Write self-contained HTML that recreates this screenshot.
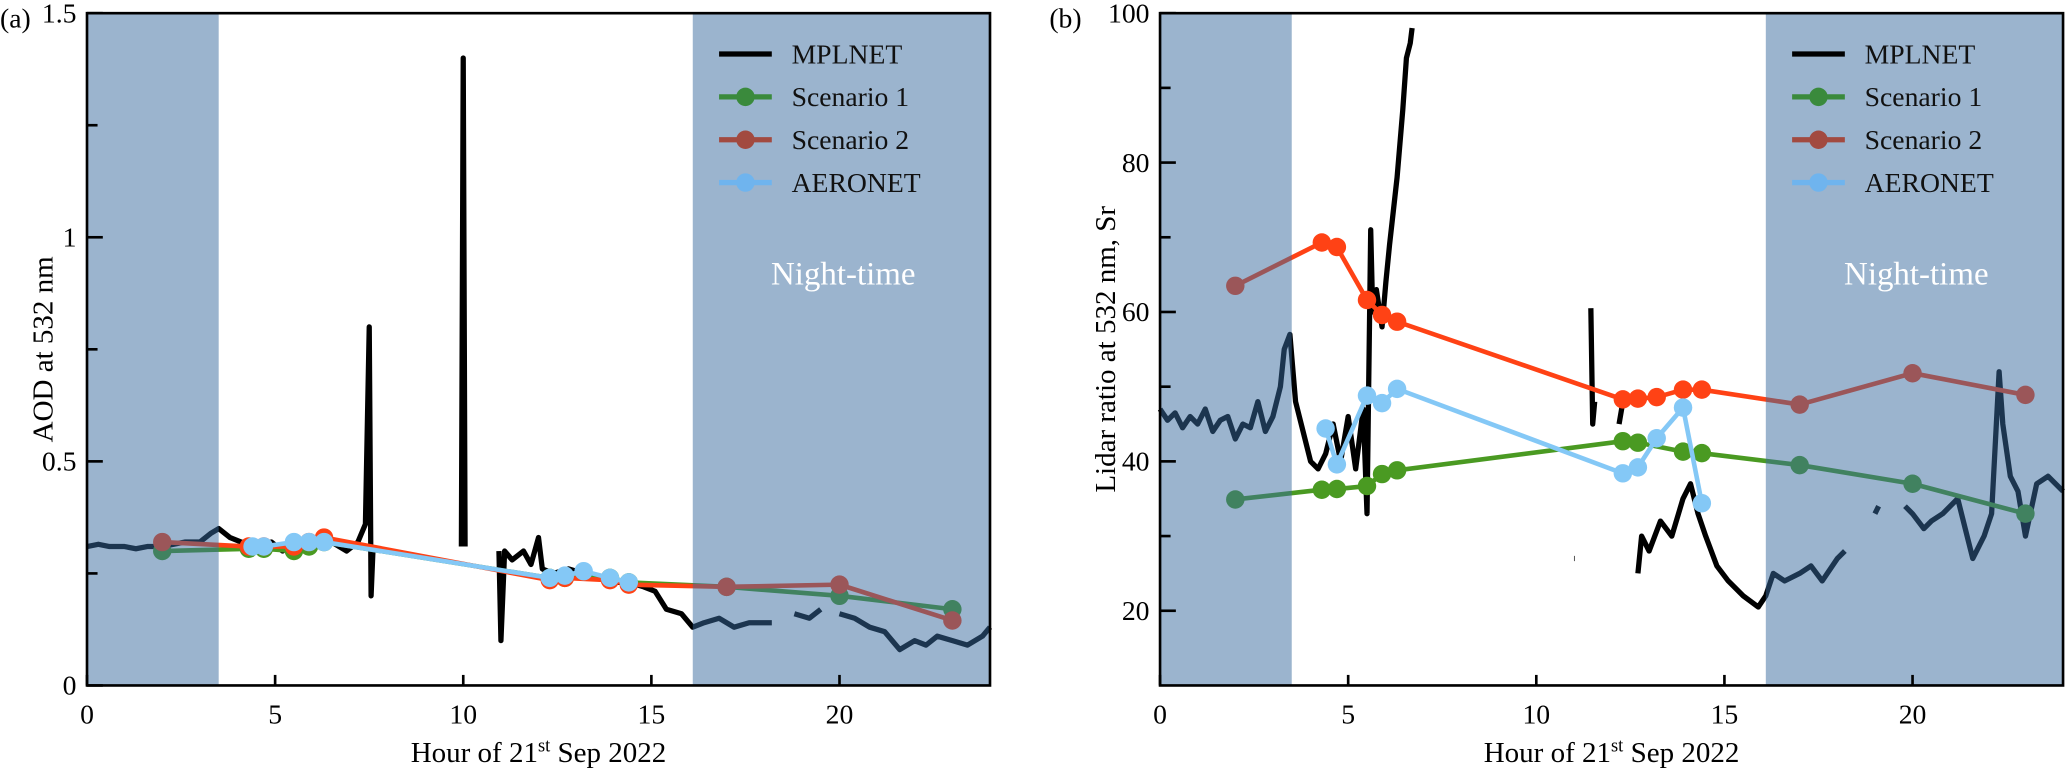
<!DOCTYPE html>
<html><head><meta charset="utf-8"><style>
body{margin:0;background:#fff;}
svg{display:block;font-family:"Liberation Serif",serif;}
</style></head><body>
<svg id="chart" width="2067" height="778" viewBox="0 0 1568 590.2" preserveAspectRatio="none"></svg>
<script>
const nightRanges=[[0,3.5],[16.1,24]];
const xTicks=[0,5,10,15,20];
const aodTicks=[0,0.5,1,1.5];
const aodTickLabels=["0","0.5","1","1.5"];
const lrTicks=[20,40,60,80,100];
const mplHoursA=[0,0.3,0.6,1,1.3,1.6,2,2.3,2.6,3,3.3,3.5,3.8,4.1,4.5,4.9,5.2,5.5,5.8,6.1,6.5,6.9,7.2,7.4,7.5,7.55,7.6,null,9.95,10.0,10.05,null,10.95,11.0,11.1,11.3,11.6,11.8,12,12.1,12.4,12.8,13.2,13.6,14,14.4,14.8,15.1,15.4,15.8,16.1,16.4,16.8,17.2,17.6,18,18.2,null,18.8,19.2,19.5,null,20,20.4,20.8,21.2,21.6,22,22.3,22.6,23,23.4,23.8,24];
const mplAod=[0.31,0.315,0.31,0.31,0.305,0.31,0.31,0.315,0.32,0.32,0.34,0.35,0.33,0.32,0.31,0.32,0.30,0.33,0.31,0.33,0.32,0.30,0.32,0.36,0.8,0.2,0.3,null,0.31,1.4,0.31,null,0.3,0.1,0.3,0.28,0.3,0.27,0.33,0.26,0.25,0.26,0.25,0.24,0.23,0.23,0.22,0.21,0.17,0.16,0.13,0.14,0.15,0.13,0.14,0.14,0.14,null,0.16,0.15,0.17,null,0.16,0.15,0.13,0.12,0.08,0.10,0.09,0.11,0.10,0.09,0.11,0.13];
const mplHoursB=[0,0.2,0.4,0.6,0.8,1,1.2,1.4,1.6,1.8,2,2.2,2.4,2.6,2.8,3,3.2,3.3,3.45,3.6,3.8,4.0,4.2,4.4,4.6,4.8,5.0,5.2,5.4,5.5,5.6,5.65,5.75,5.9,6.0,6.1,6.3,6.45,6.55,6.65,6.7,null,11.0,11.02,null,11.45,11.5,11.55,null,12.2,12.3,null,12.7,12.8,13.0,13.3,13.6,13.9,14.1,14.3,14.5,14.8,15.1,15.5,15.9,16.1,16.3,16.6,17,17.3,17.6,18,18.2,null,19,19.1,null,19.8,20,20.3,20.5,20.8,21.2,21.4,21.6,21.9,22.1,22.3,22.4,22.6,22.8,23,23.3,23.6,24];
const mplLR=[47,45.5,46.5,44.5,46,45,47,44,45.5,46,43,45,44.5,48,44,46,50,55,57,48,44,40,39,41,45,40,46,39,47,33,71,60,63,58,64,69,78,87,94,96,98,null,27,27,null,60.5,45,48,null,45,48,null,25,30,28,32,30,35,37,33,30,26,24,22,20.5,22,25,24,25,26,24,27,28,null,33,34,null,34,33,31,32,33,35,31,27,30,33,52,45,38,36,30,37,38,36];
const scenHours=[2,4.3,4.7,5.5,5.9,6.3,12.3,12.7,13.9,14.4,17,20,23];
const s1Aod=[0.30,0.305,0.305,0.30,0.31,0.32,0.24,0.24,0.24,0.23,0.22,0.20,0.17];
const s2Aod=[0.32,0.31,0.31,0.31,0.32,0.33,0.235,0.24,0.235,0.225,0.22,0.225,0.145];
const s1LR=[34.9,36.2,36.3,36.7,38.3,38.8,42.7,42.5,41.3,41.1,39.5,37,33];
const s2Hours=[2,4.3,4.7,5.5,5.9,6.3,12.3,12.7,13.2,13.9,14.4,17,20,23];
const s2LR=[63.5,69.3,68.7,61.6,59.6,58.7,48.3,48.4,48.6,49.6,49.6,47.6,51.8,48.9];
const aerHours=[4.4,4.7,5.5,5.9,6.3,12.3,12.7,13.2,13.9,14.4];
const aerAod=[0.31,0.31,0.32,0.32,0.32,0.24,0.245,0.255,0.24,0.23];
const aerLR=[44.4,39.6,48.8,47.8,49.7,38.4,39.2,43.1,47.2,34.4];

const NS="http://www.w3.org/2000/svg";
const svg=document.getElementById('chart');
function el(tag,attrs,parent){const e=document.createElementNS(NS,tag);for(const k in attrs)e.setAttribute(k,attrs[k]);(parent||svg).appendChild(e);return e;}
const GREEN="#4a9a22",RED="#ff4215",BLUE="#84c8f6";

function panel(cfg){
  const {x0,x1,y0,y1,ymin,ymax,name}=cfg;
  const g=el('g',{});
  
  
  const X=h=>x0+(h/24)*(x1-x0);
  const Y=v=>y1-(v-ymin)/(ymax-ymin)*(y1-y0);
  function path(hs,vs,color,w,nm){
    let d="",pen=false;
    for(let i=0;i<hs.length;i++){
      if(hs[i]===null||vs[i]===null){pen=false;continue;}
      d+=(pen?"L":"M")+X(hs[i]).toFixed(1)+","+Y(vs[i]).toFixed(1);pen=true;
    }
    const p=el('path',{d:d,fill:"none",stroke:color,"stroke-width":w,"stroke-linejoin":"round"},g);
    
    
  }
  function pts(hs,vs,color,nm){
    for(let i=0;i<hs.length;i++){
      const c=el('circle',{cx:X(hs[i]),cy:Y(vs[i]),r:7,fill:color},g);
      
      
    }
  }
  path(cfg.mh,cfg.mv,"#000",4,"mplnet-line");
  path(cfg.s1h,cfg.s1v,GREEN,3.5,"scenario1-line");pts(cfg.s1h,cfg.s1v,GREEN,"scenario1");
  path(cfg.s2h,cfg.s2v,RED,3.5,"scenario2-line");pts(cfg.s2h,cfg.s2v,RED,"scenario2");
  path(cfg.ah,cfg.av,BLUE,3.5,"aeronet-line");pts(cfg.ah,cfg.av,BLUE,"aeronet");
  nightRanges.forEach(r=>{
    const rc=el('rect',{x:X(r[0]),y:y0,width:X(r[1])-X(r[0]),height:y1-y0,fill:"rgba(56,106,158,0.5)"},g);
    
    
  });
  const nt=el('text',{x:X(20.1),y:y0+206,"font-size":25,fill:"#fff","text-anchor":"middle"},g);nt.textContent="Night-time";
  
  
  const lx=X(17.5);
  const leg=[["MPLNET","#000",false],["Scenario 1","#3a8a3c",true],["Scenario 2","#a24a40",true],["AERONET","#6fb4ee",true]];
  leg.forEach((l,i)=>{
    const yy=y0+31+i*32.5;
    const lg=el('g',{},g);
    
    
    el('line',{x1:lx-20,x2:lx+20,y1:yy,y2:yy,stroke:l[1],"stroke-width":4},lg);
    if(l[2])el('circle',{cx:lx,cy:yy,r:7,fill:l[1]},lg);
    const t=el('text',{x:lx+35,y:yy+7,"font-size":21,fill:"#111"},lg);t.textContent=l[0];
  });
  const fr=el('rect',{x:x0,y:y0,width:x1-x0,height:y1-y0,fill:"none",stroke:"#000","stroke-width":2},g);
  
  
  xTicks.forEach(t=>{
    el('line',{x1:X(t),x2:X(t),y1:y1,y2:y1-8,stroke:"#000","stroke-width":2},g);
    const tx=el('text',{x:X(t),y:y1+29,"font-size":21,"text-anchor":"middle"},g);tx.textContent=t;
    
    
  });
  cfg.minor.forEach(v=>el('line',{x1:x0,x2:x0+8,y1:Y(v),y2:Y(v),stroke:"#000","stroke-width":2},g));
  cfg.yt.forEach((v,i)=>{
    el('line',{x1:x0,x2:x0+12,y1:Y(v),y2:Y(v),stroke:"#000","stroke-width":2},g);
    const ty=el('text',{x:x0-8,y:Y(v)+7,"font-size":21,"text-anchor":"end"},g);ty.textContent=cfg.yl[i];
    
    
  });
  const xt=el('text',{x:(x0+x1)/2,y:y1+58,"font-size":22,"text-anchor":"middle"},g);
  xt.innerHTML='Hour of 21<tspan dy="-8" font-size="14">st</tspan><tspan dy="8"> Sep 2022</tspan>';
  
  
  const yt=el('text',{transform:`translate(${cfg.ytx},${(y0+y1)/2}) rotate(-90)`,"font-size":22,"text-anchor":"middle"},g);
  yt.textContent=cfg.ytitle;
  
  
  const pl=el('text',{x:cfg.plx,y:y0+11,"font-size":21},g);pl.textContent=cfg.plabel;
  
  
}
panel({name:"panel-a-aod",x0:66,x1:751,y0:10,y1:520,ymin:0,ymax:1.5,mh:mplHoursA,mv:mplAod,
  s1h:scenHours,s1v:s1Aod,s2h:scenHours,s2v:s2Aod,ah:aerHours,av:aerAod,
  yt:aodTicks,yl:aodTickLabels,minor:[0.25,0.75,1.25],ytitle:"AOD at 532 nm",ytx:40,plabel:"(a)",plx:0});
panel({name:"panel-b-lidar-ratio",x0:880,x1:1565,y0:10,y1:520,ymin:10,ymax:100,mh:mplHoursB,mv:mplLR,
  s1h:scenHours,s1v:s1LR,s2h:s2Hours,s2v:s2LR,ah:aerHours,av:aerLR,
  yt:lrTicks,yl:lrTicks.map(String),minor:[30,50,70,90],ytitle:"Lidar ratio at 532 nm, Sr",ytx:846,plabel:"(b)",plx:796});
</script>
</body></html>
